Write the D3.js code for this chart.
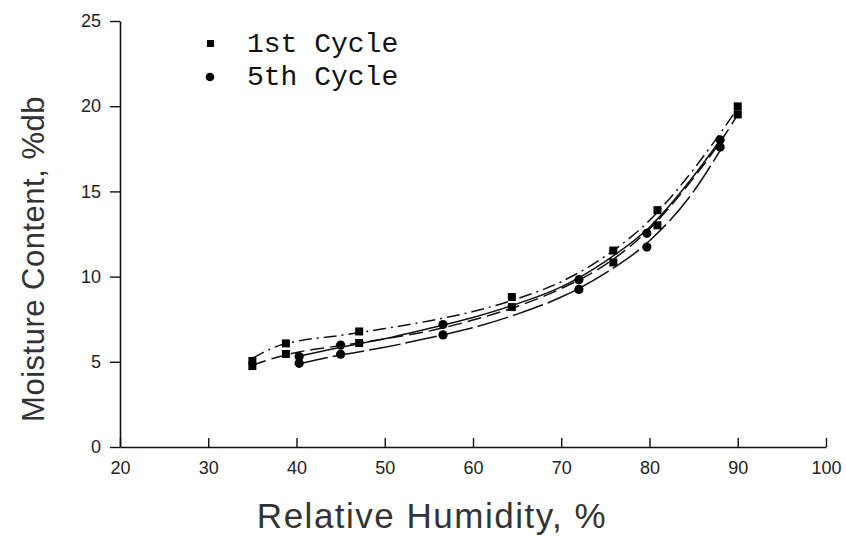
<!DOCTYPE html>
<html lang="en">
<head>
    <meta charset="UTF-8">
    <title>Moisture sorption isotherms</title>
    <script src="https://d3js.org/d3.v7.min.js"></script>
    <style>
        body { margin: 0; background: #fff; }
        .tick text { font-family: "Liberation Sans", sans-serif; font-size: 18px; fill: #222; }
        .axis-title { font-family: "Liberation Sans", sans-serif; fill: #333; }
        .legend_text { font-family: "Liberation Mono", monospace; font-size: 28px; fill: #111; }
    </style>
</head>
<body>
    <svg width="846" height="536"></svg>

    <script>
        const rh1 = [35.0, 38.8, 47.1, 64.4, 75.9, 80.9, 90.0];
        const mc1a = [5.05, 6.08, 6.78, 8.80, 11.53, 13.90, 19.99];
        const mc1b = [4.75, 5.46, 6.10, 8.21, 10.83, 13.01, 19.52];
        const rh5 = [40.3, 45.0, 56.6, 72.0, 79.7, 88.0];
        const mc5a = [5.31, 5.98, 7.19, 9.82, 12.54, 18.03];
        const mc5b = [4.91, 5.45, 6.58, 9.25, 11.73, 17.60];

        // fitted curves
        const fitRh1 = [35, 38, 40, 45, 50, 55, 60, 65, 70, 75, 80, 85, 88, 90];
        const fit1a = [5.2, 5.95, 6.2, 6.55, 6.95, 7.4, 7.95, 8.7, 9.7, 11.2, 13.3, 16.3, 18.4, 19.9];
        const fit1b = [4.8, 5.3, 5.55, 5.95, 6.35, 6.8, 7.45, 8.25, 9.3, 10.7, 12.8, 15.8, 17.9, 19.5];
        const fitRh5 = [40, 45, 50, 55, 60, 65, 70, 75, 80, 85, 88];
        const fit5a = [5.3, 5.85, 6.35, 6.95, 7.6, 8.4, 9.4, 10.9, 12.9, 15.9, 18.0];
        const fit5b = [4.85, 5.4, 5.85, 6.4, 7.0, 7.8, 8.8, 10.2, 12.1, 15.0, 17.4];

        const xTicks = [20, 30, 40, 50, 60, 70, 80, 90, 100];
        const yTicks = [0, 5, 10, 15, 20, 25];
        const legendLabels = ["1st Cycle", "5th Cycle"];

        let svg = d3.select("svg");

        let x = d3.scaleLinear().domain([20, 100]).range([120, 826]);
        let y = d3.scaleLinear().domain([0, 25]).range([447, 21]);

        // axes
        let xAxis = svg.append("g")
            .attr("transform", "translate(0," + y(0) + ")")
            .call(d3.axisBottom(x).tickValues(xTicks).tickSizeInner(-9).tickSizeOuter(0).tickPadding(20));
        let yAxis = svg.append("g")
            .attr("transform", "translate(" + x(20) + ",0)")
            .call(d3.axisLeft(y).tickValues(yTicks).tickSize(10).tickSizeOuter(0).tickPadding(9));

        [xAxis, yAxis].forEach(function (a) {
            a.select(".domain").attr("stroke", "#111").attr("stroke-width", 1.6);
            a.selectAll(".tick line").attr("stroke", "#111").attr("stroke-width", 1.4);
        });
        // x ticks point up, put the labels back under the axis
        xAxis.selectAll(".tick text").attr("y", 14).attr("dy", "0.71em");

        // curves
        const line = d3.line()
            .x(function (d) { return x(d[0]) })
            .y(function (d) { return y(d[1]) })
            .curve(d3.curveMonotoneX);

        const curves = [
            { rh: fitRh1, mc: fit1a, dash: "13,5,2,5" },
            { rh: fitRh1, mc: fit1b, dash: "14,6" },
            { rh: fitRh5, mc: fit5a, dash: null },
            { rh: fitRh5, mc: fit5b, dash: "32,5" }
        ];

        svg.append("g").selectAll("path")
            .data(curves)
            .enter()
            .append("path")
            .attr("d", function (c) { return line(d3.zip(c.rh, c.mc)) })
            .attr("fill", "none")
            .attr("stroke", "#111")
            .attr("stroke-width", 1.5)
            .attr("stroke-dasharray", function (c) { return c.dash });

        // markers
        const squares = d3.zip(rh1, mc1a).concat(d3.zip(rh1, mc1b));
        const circles = d3.zip(rh5, mc5a).concat(d3.zip(rh5, mc5b));

        svg.append("g").selectAll("rect")
            .data(squares)
            .enter()
            .append("rect")
            .attr("x", function (d) { return x(d[0]) - 4 })
            .attr("y", function (d) { return y(d[1]) - 4 })
            .attr("width", 8)
            .attr("height", 8)
            .attr("fill", "#000");

        svg.append("g").selectAll("circle")
            .data(circles)
            .enter()
            .append("circle")
            .attr("cx", function (d) { return x(d[0]) })
            .attr("cy", function (d) { return y(d[1]) })
            .attr("r", 4.6)
            .attr("fill", "#000");

        // legend
        let legend = svg.append("g");
        legend.append("rect").attr("x", 207).attr("y", 40).attr("width", 7).attr("height", 7).attr("fill", "#000");
        legend.append("circle").attr("cx", 210).attr("cy", 77).attr("r", 4.3).attr("fill", "#000");
        legend.selectAll("text")
            .data(legendLabels)
            .enter()
            .append("text")
            .attr("class", "legend_text")
            .attr("x", 247)
            .attr("y", function (d, i) { return 52 + i * 33 })
            .text(function (d) { return d });

        // axis titles
        svg.append("text")
            .attr("class", "axis-title")
            .attr("x", 432)
            .attr("y", 528)
            .attr("text-anchor", "middle")
            .attr("font-size", 35)
            .attr("letter-spacing", 1.5)
            .text("Relative Humidity, %");

        svg.append("text")
            .attr("class", "axis-title")
            .attr("transform", "translate(44,259) rotate(-90)")
            .attr("text-anchor", "middle")
            .attr("font-size", 31)
            .attr("letter-spacing", 0.5)
            .text("Moisture Content, %db");
    </script>
</body>
</html>
